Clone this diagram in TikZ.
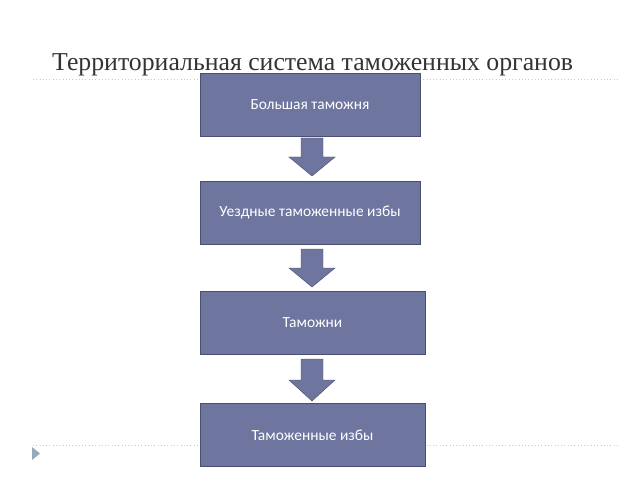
\documentclass[tikz,border=0pt]{standalone}
\usepackage{fontspec}
\setmainfont{Liberation Serif}
\newfontfamily\boxfont{Carlito}
\usetikzlibrary{positioning}
\definecolor{boxfill}{RGB}{110,118,160}
\definecolor{boxline}{RGB}{75,80,115}
\definecolor{rulegray}{RGB}{200,200,200}
\definecolor{bulletblue}{RGB}{150,170,190}
\tikzset{
  level/.style={draw=boxline, fill=boxfill, text=white, font=\boxfont\fontsize{13.2}{15}\selectfont,
    minimum width=6.6cm, minimum height=1.9cm, inner sep=0pt},
  blockarrow/.style={draw=boxline, fill=boxfill},
}
\begin{document}
\begin{tikzpicture}[x=0.03cm,y=-0.03cm]
            \useasboundingbox (0,0) rectangle (640,480);

            \draw[rulegray, dotted, thick] (33,79) -- (620,79);
            \draw[rulegray, dotted, thick] (33,445) -- (620,445);
            \fill[bulletblue] (32,447) -- (40,453.5) -- (32,460) -- cycle;

            \node[anchor=base west, inner sep=0pt, font=\fontsize{22}{25}\selectfont, text=black!80] (title) at (52,71)
                {Территориальная система таможенных органов};

            \node[level] (big) at (310,105) {Большая таможня};
            \node[level] (uezd) at (310,212.5) {Уездные таможенные избы};
            \node[level, minimum width=6.75cm] (tam) at (312.5,322.5) {Таможни};
            \node[level, minimum width=6.75cm] (izby) at (312.5,435) {Таможенные избы};

            % block arrows between levels
            \draw[blockarrow] (301,138) -- (323,138) -- (323,157) -- (335,157) -- (312,176)
                -- (289,157) -- (301,157) -- cycle;
            \draw[blockarrow] (301,249) -- (323,249) -- (323,268) -- (335,268) -- (312,287)
                -- (289,268) -- (301,268) -- cycle;
            \draw[blockarrow] (301,359) -- (323,359) -- (323,380) -- (335,380) -- (312,401)
                -- (289,380) -- (301,380) -- cycle;

        \end{tikzpicture}
\end{document}
